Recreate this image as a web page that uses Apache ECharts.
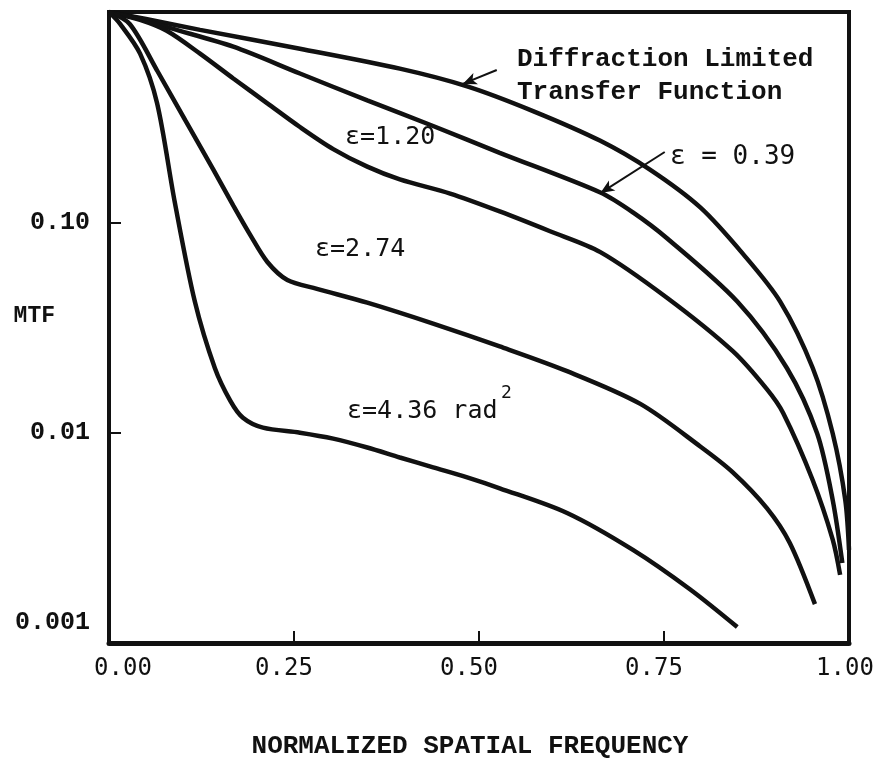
<!DOCTYPE html>
<html>
<head>
<meta charset="utf-8">
<script src="https://cdn.jsdelivr.net/npm/echarts/dist/echarts.min.js"></script>
<style>
  html, body { margin: 0; padding: 0; background: #fff; }
  #mtf { width: 882px; height: 766px; }
</style>
</head>
<body>
<div id="mtf"></div>
<script>
// normalized spatial frequency / MTF pairs
var freqDiff = [0, 0.05, 0.123, 0.258, 0.393, 0.484, 0.573, 0.664, 0.731, 0.799, 0.857, 0.907, 0.951, 0.978, 0.995, 1.0];
var mtfDiff  = [1, 0.927, 0.822, 0.669, 0.538, 0.443, 0.338, 0.244, 0.178, 0.1177, 0.0706, 0.042, 0.0203, 0.0099, 0.00478, 0.00277];

var freq039 = [0, 0.042, 0.082, 0.168, 0.258, 0.349, 0.438, 0.528, 0.664, 0.708, 0.754, 0.849, 0.916, 0.957, 0.978, 0.991];
var mtf039  = [1, 0.927, 0.840, 0.684, 0.510, 0.380, 0.287, 0.214, 0.1386, 0.1115, 0.084, 0.042, 0.0203, 0.0099, 0.00478, 0.0024];

var freq120 = [0, 0.042, 0.078, 0.123, 0.168, 0.214, 0.258, 0.303, 0.349, 0.393, 0.461, 0.528, 0.596, 0.664, 0.754, 0.843, 0.889, 0.911, 0.951, 0.978, 0.988];
var mtf120  = [1, 0.917, 0.814, 0.634, 0.483, 0.368, 0.284, 0.223, 0.184, 0.160, 0.137, 0.1127, 0.0907, 0.0722, 0.0438, 0.0244, 0.0161, 0.0124, 0.00594, 0.0031, 0.00211];

var freq274 = [0, 0.028, 0.065, 0.103, 0.141, 0.168, 0.191, 0.214, 0.241, 0.281, 0.349, 0.438, 0.528, 0.619, 0.718, 0.799, 0.843, 0.889, 0.920, 0.954];
var mtf274  = [1, 0.877, 0.527, 0.306, 0.178, 0.120, 0.0869, 0.0648, 0.0532, 0.0483, 0.0415, 0.0330, 0.0257, 0.0196, 0.0137, 0.0086, 0.00648, 0.00438, 0.00299, 0.00153];

var freq436 = [0, 0.015, 0.042, 0.065, 0.089, 0.116, 0.143, 0.164, 0.181, 0.208, 0.258, 0.303, 0.349, 0.393, 0.438, 0.484, 0.528, 0.619, 0.708, 0.785, 0.849];
var mtf436  = [1, 0.878, 0.634, 0.368, 0.124, 0.042, 0.0203, 0.01416, 0.01177, 0.01056, 0.0100, 0.00937, 0.00850, 0.00762, 0.00684, 0.00613, 0.00544, 0.00415, 0.00277, 0.00180, 0.00119];

// leader arrows: [fromFreq, fromMtf, toFreq, toMtf]
var arrowDiff = [0.524, 0.530, 0.478, 0.455];
var arrow039  = [0.751, 0.216, 0.664, 0.1378];

function pairs(xs, ys) {
    var out = [];
    for (var i = 0; i < xs.length; i++) out.push([xs[i], ys[i]]);
    return out;
}

function curve(name, xs, ys) {
    return {
        name: name,
        type: 'line',
        data: pairs(xs, ys),
        showSymbol: false,
        smooth: 0.3,
        lineStyle: { color: '#111', width: 4.5 },
        z: 3
    };
}

var ink = '#111';
var monoSans = '"DejaVu Sans Mono", monospace';
var monoBold = 'bold 26px "Liberation Mono", monospace';

var chart = echarts.init(document.getElementById('mtf'));

var diffSeries = curve('Diffraction Limited', freqDiff, mtfDiff);
diffSeries.markLine = {
    silent: true,
    symbol: ['none', 'arrow'],
    symbolSize: [9, 14],
    label: { show: false },
    lineStyle: { color: ink, width: 2, type: 'solid' },
    data: [
        [{ coord: [arrowDiff[0], arrowDiff[1]] }, { coord: [arrowDiff[2], arrowDiff[3]] }],
        [{ coord: [arrow039[0], arrow039[1]] }, { coord: [arrow039[2], arrow039[3]] }]
    ]
};

var option = {
    animation: false,
    backgroundColor: '#fff',
    grid: {
        left: 109, right: 33, top: 12, bottom: 123,
        outerBoundsMode: 'none',
        containLabel: false,
        show: true, borderColor: ink, borderWidth: 4
    },
    xAxis: {
        type: 'value',
        min: 0, max: 1, interval: 0.25,
        name: 'NORMALIZED SPATIAL FREQUENCY',
        nameLocation: 'middle',
        nameGap: 90,
        nameMoveOverlap: false,
        nameTextStyle: {
            color: ink, fontFamily: '"Liberation Mono", monospace',
            fontWeight: 'bold', fontSize: 26, padding: [0, 18, 0, 0]
        },
        axisLine: { show: true, lineStyle: { color: ink, width: 5 } },
        axisTick: { show: true, inside: true, length: 12, lineStyle: { color: ink, width: 2 } },
        splitLine: { show: false },
        axisLabel: {
            margin: 14,
            color: ink,
            fontFamily: monoSans,
            fontSize: 24,
            formatter: function (v) {
                var s = v.toFixed(2);
                if (v === 0) return '{first|' + s + '}';
                if (v === 1) return '{last|' + s + '}';
                return '{mid|' + s + '}';
            },
            rich: {
                first: { fontFamily: monoSans, fontSize: 24, color: ink, padding: [0, 0, 0, 28] },
                mid: { fontFamily: monoSans, fontSize: 24, color: ink, padding: [0, 20, 0, 0] },
                last: { fontFamily: monoSans, fontSize: 24, color: ink, padding: [0, 8, 0, 0] }
            }
        }
    },
    yAxis: {
        type: 'log',
        logBase: 10,
        min: 0.001, max: 1,
        name: 'MTF',
        nameLocation: 'middle',
        nameRotate: 0,
        nameGap: 54,
        nameMoveOverlap: false,
        nameTextStyle: {
            color: ink, fontFamily: '"Liberation Mono", monospace',
            fontWeight: 'bold', fontSize: 23, verticalAlign: 'bottom'
        },
        axisLine: { show: true, lineStyle: { color: ink, width: 4 } },
        axisTick: { show: true, inside: true, length: 12, lineStyle: { color: ink, width: 2 } },
        minorTick: { show: false },
        splitLine: { show: false },
        axisLabel: {
            margin: 19,
            color: ink,
            fontFamily: '"Liberation Mono", monospace',
            fontWeight: 'bold',
            fontSize: 25,
            formatter: function (v) {
                var p = Math.round(Math.log10(v));
                if (p >= 0) return '';
                if (p === -1) return '0.10';
                if (p === -2) return '0.01';
                return '{low|0.001}';
            },
            rich: {
                low: {
                    fontFamily: '"Liberation Mono", monospace', fontWeight: 'bold',
                    fontSize: 25, color: ink, padding: [0, 0, 40, 0]
                }
            }
        }
    },
    graphic: [
        { type: 'text', left: 517, top: 46, style: { text: 'Diffraction Limited', font: monoBold, fill: ink } },
        { type: 'text', left: 517, top: 79, style: { text: 'Transfer Function', font: monoBold, fill: ink } },
        { type: 'text', left: 670, top: 144, style: { text: 'ε = 0.39', font: '26px ' + monoSans, fill: ink } },
        { type: 'text', left: 345, top: 125, style: { text: 'ε=1.20', font: '25px ' + monoSans, fill: ink } },
        { type: 'text', left: 315, top: 237, style: { text: 'ε=2.74', font: '25px ' + monoSans, fill: ink } },
        { type: 'text', left: 347, top: 399, style: { text: 'ε=4.36 rad', font: '25px ' + monoSans, fill: ink } },
        { type: 'text', left: 501, top: 384, style: { text: '2', font: '18px ' + monoSans, fill: ink } }
    ],
    series: [
        diffSeries,
        curve('ε = 0.39', freq039, mtf039),
        curve('ε=1.20', freq120, mtf120),
        curve('ε=2.74', freq274, mtf274),
        curve('ε=4.36 rad²', freq436, mtf436)
    ]
};

chart.setOption(option);
</script>
</body>
</html>
